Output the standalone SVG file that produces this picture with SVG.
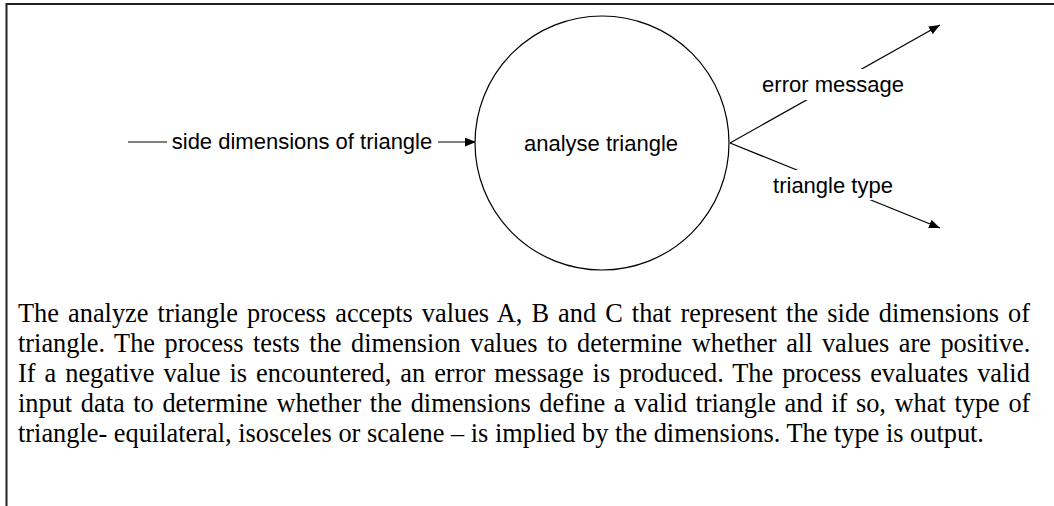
<svg xmlns="http://www.w3.org/2000/svg" width="1054" height="506" viewBox="0 0 1054 506">
<style>
.lbl{font-family:"Liberation Sans",Arial,sans-serif;font-size:22px;fill:#000;text-anchor:middle}
.para{font-family:"Liberation Serif","Times New Roman",serif;font-size:26.35px;fill:#000}
.edge{stroke:#000;stroke-width:1.2;fill:none}
.bg{fill:#fff}
</style>
<defs>
<marker id="arr" markerUnits="userSpaceOnUse" viewBox="0 0 10 8" refX="10" refY="4" markerWidth="11" markerHeight="9" orient="auto">
<path d="M0,0 L10,4 L0,8 Z" fill="#000"/>
</marker>
</defs>
<rect width="1054" height="506" fill="#fff"/>
<path d="M6.5,506 V4 H1054" fill="none" stroke="#222" stroke-width="2"/>
<g id="connectors">
<line class="edge" x1="128" y1="142" x2="476" y2="142" marker-end="url(#arr)"/>
<line class="edge" x1="730" y1="143" x2="940" y2="25" marker-end="url(#arr)"/>
<line class="edge" x1="730" y1="143" x2="940" y2="228" marker-end="url(#arr)"/>
<g id="label-input"><rect class="bg" x="167" y="130" width="271" height="24"/><text class="lbl" x="302" y="149">side dimensions of triangle</text></g>
<g id="label-error"><rect class="bg" x="760" y="69" width="146" height="31"/><text class="lbl" x="833" y="92">error message</text></g>
<g id="label-type"><rect class="bg" x="771" y="170" width="124" height="30"/><text class="lbl" x="833" y="193">triangle type</text></g>
</g>
<g id="process">
<circle cx="602" cy="143" r="127" fill="#fff" stroke="#000" stroke-width="1.2"/>
<text class="lbl" x="601" y="151">analyse triangle</text>
</g>
<g id="description">
<text class="para" x="18" y="322" word-spacing="2.5">The analyze triangle process accepts values A, B and C that represent the side dimensions of</text>
<text class="para" x="18" y="352" word-spacing="2.9">triangle. The process tests the dimension values to determine whether all values are positive.</text>
<text class="para" x="18" y="382" word-spacing="2.4">If a negative value is encountered, an error message is produced. The process evaluates valid</text>
<text class="para" x="18" y="412" word-spacing="2.05">input data to determine whether the dimensions define a valid triangle and if so, what type of</text>
<text class="para" x="18" y="442">triangle- equilateral, isosceles or scalene – is implied by the dimensions. The type is output.</text>
</g>
</svg>
